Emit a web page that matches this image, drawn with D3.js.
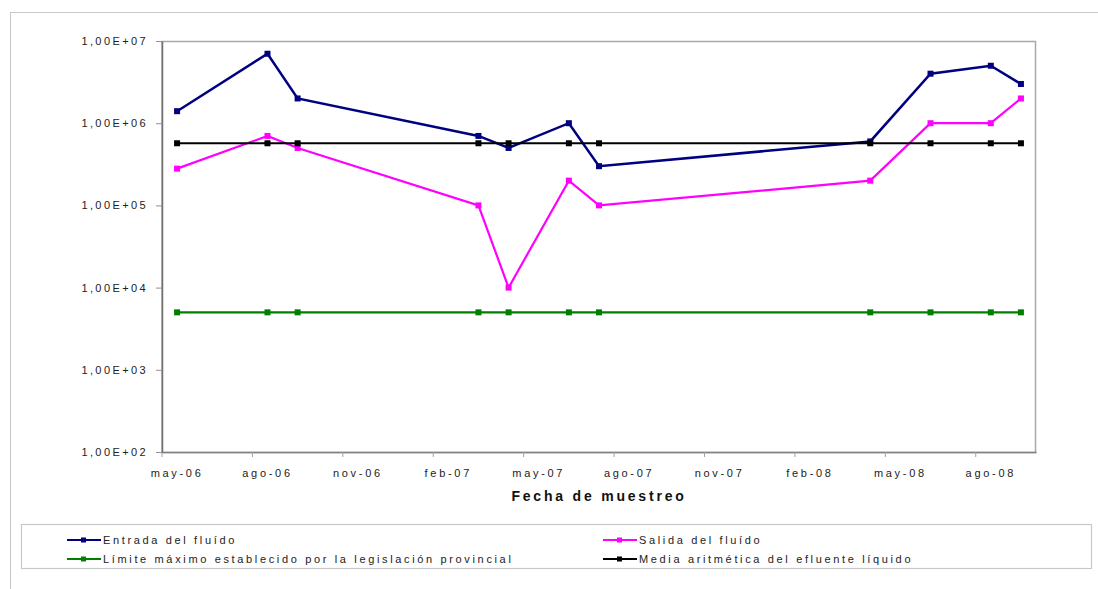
<!DOCTYPE html>
<html>
<head>
<meta charset="utf-8">
<script src="https://cdn.jsdelivr.net/npm/d3@7"></script>
<style>
  html, body { margin: 0; padding: 0; background: #fff; }
  svg { display: block; font-family: "Liberation Sans", Arial, sans-serif; }
</style>
</head>
<body>
<svg id="chart" width="1098" height="589"></svg>
<script>
// ---- data ----
const sampleDates = ["2006-05", "2006-08", "2006-09", "2007-03", "2007-04", "2007-06", "2007-07", "2008-04", "2008-06", "2008-08", "2008-09"];
const entrada = [1400000, 7000000, 2000000, 700000, 500000, 1000000, 300000, 600000, 4000000, 5000000, 3000000];
const salida  = [280000, 700000, 500000, 100000, 10000, 200000, 100000, 200000, 1000000, 1000000, 2000000];
const limite  = [5000, 5000, 5000, 5000, 5000, 5000, 5000, 5000, 5000, 5000, 5000];
const media   = [570000, 570000, 570000, 570000, 570000, 570000, 570000, 570000, 570000, 570000, 570000];
const xTickLabels = ["may-06", "ago-06", "nov-06", "feb-07", "may-07", "ago-07", "nov-07", "feb-08", "may-08", "ago-08"];
const yTickValues = [1e2, 1e3, 1e4, 1e5, 1e6, 1e7];
const yTickLabels = ["1,00E+02", "1,00E+03", "1,00E+04", "1,00E+05", "1,00E+06", "1,00E+07"];
const seriesNames = ["Entrada del fluído", "Salida del fluído", "Límite máximo establecido por la legislación provincial", "Media aritmética del efluente líquido"];
const seriesColors = ["#000080", "#FF00FF", "#008000", "#000000"];
const xTitle = "Fecha de muestreo";

// ---- layout ----
const svg = d3.select("#chart");
const plot = { left: 162, top: 41, right: 1036, bottom: 452 };

// outer frame (only top and left visible)
svg.append("rect").attr("x", 10.5).attr("y", 12.5).attr("width", 1200).attr("height", 700)
  .attr("fill", "none").attr("stroke", "#c8c8c8").attr("stroke-width", 1);

// month slots from may-06 to sep-08
const parseM = d3.timeParse("%Y-%m");
const fmtM = d3.timeFormat("%Y-%m");
const months = d3.timeMonth.range(parseM("2006-05"), parseM("2008-10")).map(fmtM);
const x = d3.scaleBand().domain(months).range([plot.left, plot.right]).paddingInner(0).paddingOuter(0);
const xc = m => x(m) + x.bandwidth() / 2;
const y = d3.scaleLog().domain([1e2, 1e7]).range([plot.bottom, plot.top]);

// plot area border
svg.append("rect").attr("x", plot.left).attr("y", plot.top + 0.5)
  .attr("width", plot.right - plot.left - 0.5).attr("height", plot.bottom - plot.top)
  .attr("fill", "#fff").attr("stroke", "#a8a8a8").attr("stroke-width", 1.5);

// x axis: ticks every 3 months at slot start, labels centered on slot
const tickMonths = months.filter((m, i) => i % 3 === 0);
const xAxis = d3.axisBottom(x).tickValues(tickMonths).tickSize(5).tickSizeOuter(0)
  .tickFormat((d, i) => xTickLabels[i]);
const gx = svg.append("g").attr("transform", `translate(0,${plot.bottom})`).call(xAxis);
gx.select(".domain").attr("stroke", "#808080").attr("stroke-width", 1.5);
gx.selectAll(".tick").each(function (d) {
  const t = d3.select(this);
  t.attr("transform", `translate(${x(d)},0)`);
  t.select("line").attr("stroke", "#a0a0a0");
  t.select("text").attr("x", x.bandwidth() / 2).attr("y", 17)
    .attr("fill", "#222").attr("font-size", 11).style("letter-spacing", "2.7px")
    .attr("font-family", "Liberation Sans, Arial, sans-serif");
});

// y axis
const yAxis = d3.axisLeft(y).tickValues(yTickValues).tickSize(6).tickSizeOuter(0)
  .tickFormat((d, i) => yTickLabels[i]);
const gy = svg.append("g").attr("transform", `translate(${plot.left},0)`).call(yAxis);
gy.select(".domain").attr("stroke", "#707070").attr("stroke-width", 1.5);
gy.selectAll(".tick line").attr("stroke", "#909090");
gy.selectAll(".tick text").attr("x", -14).attr("fill", "#222").attr("font-size", 11)
  .style("letter-spacing", "2.4px").attr("font-family", "Liberation Sans, Arial, sans-serif");

// x title
svg.append("text").attr("x", (plot.left + plot.right) / 2).attr("y", 501)
  .attr("text-anchor", "middle").attr("font-size", 14).attr("font-weight", "bold")
  .style("letter-spacing", "2.8px").attr("fill", "#111").text(xTitle);

// series
const allSeries = [entrada, salida, limite, media];
const widths = [2.5, 2.2, 2.2, 2];
const line = d3.line().x(d => xc(d.m)).y(d => y(d.v));
allSeries.forEach((vals, si) => {
  const pts = sampleDates.map((m, i) => ({ m, v: vals[i] }));
  const g = svg.append("g");
  g.append("path").datum(pts).attr("d", line).attr("fill", "none")
    .attr("stroke", seriesColors[si]).attr("stroke-width", widths[si]).attr("stroke-linejoin", "miter");
  g.selectAll("rect").data(pts).join("rect")
    .attr("x", d => xc(d.m) - 3).attr("y", d => y(d.v) - 3)
    .attr("width", 6).attr("height", 6).attr("fill", seriesColors[si]);
});

// legend
const lg = svg.append("g");
lg.append("rect").attr("x", 21.5).attr("y", 524.5).attr("width", 1070).attr("height", 44)
  .attr("fill", "#fff").attr("stroke", "#c8c8c8").attr("stroke-width", 1.2);
const legPos = [[67, 540], [603, 540], [67, 559], [603, 559]];
seriesNames.forEach((name, i) => {
  const [lx, ly] = legPos[i];
  lg.append("line").attr("x1", lx).attr("x2", lx + 34).attr("y1", ly).attr("y2", ly)
    .attr("stroke", seriesColors[i]).attr("stroke-width", 2);
  lg.append("rect").attr("x", lx + 14).attr("y", ly - 2.5).attr("width", 5).attr("height", 5)
    .attr("fill", seriesColors[i]);
  lg.append("text").attr("x", lx + 36).attr("y", ly + 4).attr("font-size", 11)
    .style("letter-spacing", "2.65px").attr("fill", "#222").text(name);
});
</script>
</body>
</html>
